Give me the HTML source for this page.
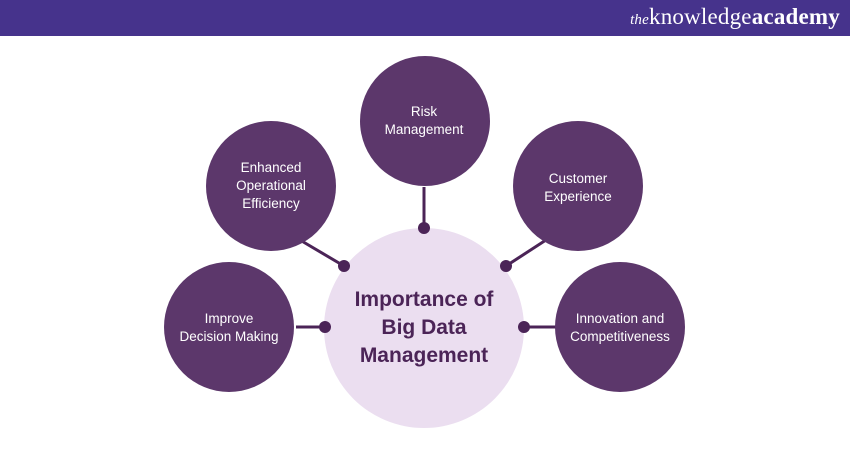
<!DOCTYPE html>
<html><head><meta charset="utf-8"><style>
html,body{margin:0;padding:0;background:#fff;}
body{width:850px;height:450px;overflow:hidden;position:relative;font-family:"Liberation Sans",sans-serif;}
.bar{position:absolute;left:0;top:0;width:850px;height:36px;background:#46338c;}
.logo{position:absolute;right:10px;top:4px;color:#fff;font-family:"Liberation Serif",serif;font-size:23px;letter-spacing:0.2px;}
.logo i{font-size:15px;}
svg{position:absolute;left:0;top:0;}
</style></head><body>
<div class="bar"><div class="logo"><i>the</i>knowledge<b>academy</b></div></div>
<svg width="850" height="450" viewBox="0 0 850 450">
<g stroke="#4b2457" stroke-width="3">
<line x1="424" y1="187" x2="424" y2="228"/>
<line x1="344" y1="266" x2="300" y2="240"/>
<line x1="506" y1="266" x2="546" y2="240"/>
<line x1="324" y1="327" x2="296" y2="327"/>
<line x1="524" y1="327" x2="556" y2="327"/>
</g>
<circle cx="424" cy="328" r="100" fill="#ebdef0"/>
<g fill="#5c376b">
<circle cx="425" cy="121" r="65"/>
<circle cx="271" cy="186" r="65"/>
<circle cx="578" cy="186" r="65"/>
<circle cx="229" cy="327" r="65"/>
<circle cx="620" cy="327" r="65"/>
</g>
<g fill="#4b2457">
<circle cx="424" cy="228" r="6"/>
<circle cx="344" cy="266" r="6"/>
<circle cx="506" cy="266" r="6"/>
<circle cx="325" cy="327" r="6"/>
<circle cx="524" cy="327" r="6"/>
</g>
<g fill="#fff" font-family="Liberation Sans, sans-serif" font-size="13.5" text-anchor="middle">
<text x="424" y="116">Risk</text><text x="424" y="134">Management</text>
<text x="271" y="172">Enhanced</text><text x="271" y="190">Operational</text><text x="271" y="208">Efficiency</text>
<text x="578" y="183">Customer</text><text x="578" y="201">Experience</text>
<text x="229" y="323">Improve</text><text x="229" y="341">Decision Making</text>
<text x="620" y="323">Innovation and</text><text x="620" y="341">Competitiveness</text>
</g>
<g fill="#4b2457" font-family="Liberation Sans, sans-serif" font-size="21" font-weight="bold" text-anchor="middle">
<text x="424" y="306">Importance of</text>
<text x="424" y="334">Big Data</text>
<text x="424" y="362">Management</text>
</g>
</svg>
</body></html>
